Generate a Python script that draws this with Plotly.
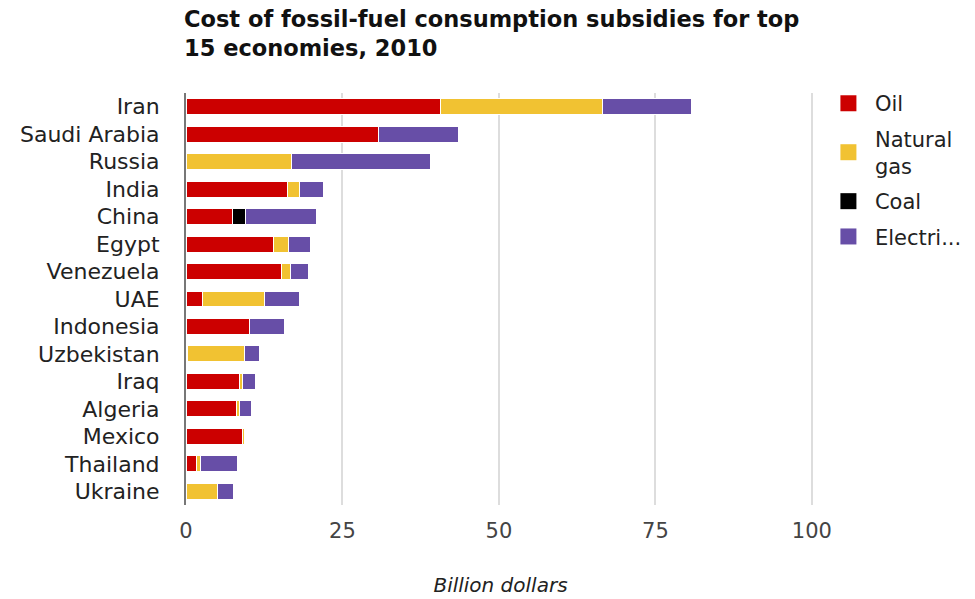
import plotly.graph_objects as go

countries = ["Iran", "Saudi Arabia", "Russia", "India", "China", "Egypt", "Venezuela",
             "UAE", "Indonesia", "Uzbekistan", "Iraq", "Algeria", "Mexico", "Thailand", "Ukraine"]
oil = [40.7, 30.7, 0, 16.2, 7.5, 13.9, 15.3, 2.6, 10.1, 0.2, 8.5, 8.1, 9.0, 1.7, 0]
gas = [25.8, 0, 16.9, 2.0, 0, 2.5, 1.4, 9.9, 0, 9.1, 0.5, 0.5, 0.3, 0.6, 5.1]
coal = [0, 0, 0, 0, 2.0, 0, 0, 0, 0, 0, 0, 0, 0, 0, 0]
elec = [14.3, 12.8, 22.2, 3.8, 11.4, 3.5, 2.8, 5.6, 5.6, 2.4, 2.1, 1.8, 0, 6.0, 2.5]

series_names = ["Oil", "Natural<br>gas", "Coal", "Electri..."]
series_values = [oil, gas, coal, elec]
colors = ["#cc0000", "#f1c232", "#000000", "#674ea7"]

FONT = "DejaVu Sans, Liberation Sans, Arial, sans-serif"

fig = go.Figure()
for name, vals, col in zip(series_names, series_values, colors):
    fig.add_trace(go.Bar(
        y=countries, x=vals, orientation="h", name=name,
        marker=dict(color=col, line=dict(color="white", width=1)),
        showlegend=False, hoverinfo="x+y",
    ))
for i, (name, col) in enumerate(zip(series_names, colors)):
    fig.add_trace(go.Scatter(
        x=[None], y=[None], mode="markers", name=name, legendgroup=f"g{i}",
        marker=dict(symbol="square", size=17, color=col),
        showlegend=True,
    ))

fig.add_annotation(
    text="<b>Cost of fossil-fuel consumption subsidies for top<br>15 economies, 2010</b>",
    xref="paper", yref="paper", x=-0.006, y=501 / 412,
    xanchor="left", yanchor="top", align="left", showarrow=False,
    font=dict(family=FONT, size=22.5, color="#111111"),
)

fig.update_layout(
    width=975, height=599,
    barmode="stack", bargap=0.42,
    plot_bgcolor="white", paper_bgcolor="white",
    margin=dict(l=186, r=160, t=93, b=94, autoexpand=False),
    font=dict(family=FONT, color="#222222"),
    legend=dict(
        x=1.011, xanchor="left", y=1.024, yanchor="top",
        traceorder="grouped", tracegroupgap=5,
        font=dict(family=FONT, size=21, color="#222222"),
        itemwidth=43, bgcolor="rgba(0,0,0,0)",
    ),
    xaxis=dict(
        range=[0, 100.5], tickvals=[0, 25, 50, 75, 100],
        showgrid=True, gridcolor="#dddddd", gridwidth=2,
        zeroline=False, showline=False,
        tickfont=dict(family=FONT, size=21, color="#444444"),
        ticklabelstandoff=11,
        title=dict(text="Billion dollars", standoff=35,
                   font=dict(family=FONT, size=20, color="#222222", style="italic")),
    ),
    yaxis=dict(
        categoryorder="array", categoryarray=countries, autorange="reversed",
        showgrid=False, showline=True, linecolor="#777777", linewidth=2,
        tickfont=dict(family=FONT, size=22, color="#222222"),
        ticklabelstandoff=20, ticks="",
    ),
)

fig.write_html("out.html")
